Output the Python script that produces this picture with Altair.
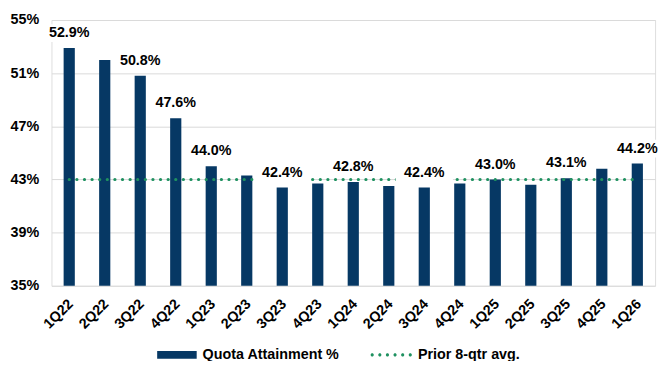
import altair as alt
import pandas as pd

quarters = ["1Q22", "2Q22", "3Q22", "4Q22", "1Q23", "2Q23", "3Q23", "4Q23", "1Q24",
            "2Q24", "3Q24", "4Q24", "1Q25", "2Q25", "3Q25", "4Q25", "1Q26"]
quota = [52.9, 52.0, 50.8, 47.6, 44.0, 43.3, 42.4, 42.7, 42.8,
         42.5, 42.4, 42.7, 43.0, 42.6, 43.1, 43.8, 44.2]
prior_avg = [43.0, 43.0, 43.0, 43.0, 43.0, 43.0, 43.0, 43.0, 43.0,
             43.0, 43.0, 43.0, 43.0, 43.0, 43.0, 43.0, 43.0]
show_label = [True, False, True, True, True, False, True, False, True,
              False, True, False, True, False, True, False, True]
y_ticks = [35, 39, 43, 47, 51, 55]
series_bar = "Quota Attainment %"
series_line = "Prior 8-qtr avg."

df = pd.DataFrame({
    "quarter": quarters,
    "quota": quota,
    "avg": prior_avg,
    "show": show_label,
    "s1": series_bar,
    "s2": series_line,
})
lab = df[df["show"]].copy()

FONT = "Liberation Sans"
NAVY = "#063864"
GREEN = "#1f9160"
FS = 14.5

x_enc = alt.X(
    "quarter:N", sort=quarters,
    scale=alt.Scale(paddingInner=0.685, paddingOuter=0.3425),
    axis=alt.Axis(title=None, labelAngle=315, labelAlign="right", labelBaseline="middle",
                  labelPadding=16, labelOffset=2, ticks=False, domain=False, grid=False,
                  labelFont=FONT, labelFontSize=FS, labelFontWeight="bold",
                  labelColor="#000000"),
)
yscale = alt.Scale(domain=[35, 55], nice=False, zero=False)

box_path = "M-1,-0.31L1,-0.31L1,0.31L-1,0.31Z"
bar_sym = "M-1,-0.2L1,-0.2L1,0.2L-1,0.2Z"


def dot(cx, r=0.076):
    return (f"M{cx - r:.3f},0A{r},{r} 0 1,0 {cx + r:.3f},0"
            f"A{r},{r} 0 1,0 {cx - r:.3f},0Z")


dots_path = "".join(dot(c) for c in [-0.92, -0.553, -0.186, 0.181, 0.548, 0.915])

bars = alt.Chart(df).mark_bar().encode(
    x=x_enc,
    y=alt.Y("quota:Q", scale=yscale,
            axis=alt.Axis(title=None, values=y_ticks, labelExpr="datum.value + '%'",
                          grid=True, gridColor="#d9d9d9", gridWidth=1, domain=False,
                          ticks=False, labelPadding=13, labelFont=FONT, labelFontSize=FS,
                          labelFontWeight="bold", labelColor="#000000")),
    y2=alt.datum(35),
    color=alt.Color("s1:N", scale=alt.Scale(range=[NAVY]),
                    legend=alt.Legend(orient="none", legendX=107, legendY=319, title=None,
                                      symbolType=bar_sym, symbolSize=1600, padding=0,
                                      labelOffset=6, labelFont=FONT, labelFontSize=FS,
                                      labelFontWeight="bold", labelColor="#000000",
                                      symbolStrokeWidth=0)),
)

line = alt.Chart(df).mark_line(strokeDash=[0.1, 7.6], strokeCap="round", strokeWidth=3.2).encode(
    x=alt.X("quarter:N", sort=quarters),
    y=alt.Y("avg:Q", scale=yscale),
    stroke=alt.Stroke("s2:N", scale=alt.Scale(range=[GREEN]),
                      legend=alt.Legend(orient="none", legendX=323, legendY=318, title=None,
                                        symbolType=dots_path, symbolSize=1764, padding=0,
                                        symbolFillColor=GREEN, symbolStrokeWidth=0,
                                        labelOffset=6, labelFont=FONT, labelFontSize=FS,
                                        labelFontWeight="bold", labelColor="#000000")),
)

boxes = alt.Chart(lab).mark_point(shape=box_path, filled=True, fill="white", opacity=1,
                                  strokeWidth=0, size=3364, yOffset=-15).encode(
    x=alt.X("quarter:N", sort=quarters),
    y=alt.Y("quota:Q", scale=yscale),
)

text = alt.Chart(lab).transform_calculate(
    lbl="format(datum.quota, '.1f') + '%'"
).mark_text(dy=-15, baseline="middle", align="center", font=FONT, fontSize=FS,
            fontWeight="bold", color="#000000").encode(
    x=alt.X("quarter:N", sort=quarters),
    y=alt.Y("quota:Q", scale=yscale),
    text="lbl:N",
)

chart = alt.layer(bars, line, boxes, text).properties(
    width=611, height=269,
    autosize=alt.AutoSizeParams(type="none"),
    padding={"left": 44, "top": 10, "right": 6, "bottom": 74},
).configure_view(stroke=None).configure(background="white")

chart.save("out.html", embed_options={"renderer": "svg", "actions": False})
